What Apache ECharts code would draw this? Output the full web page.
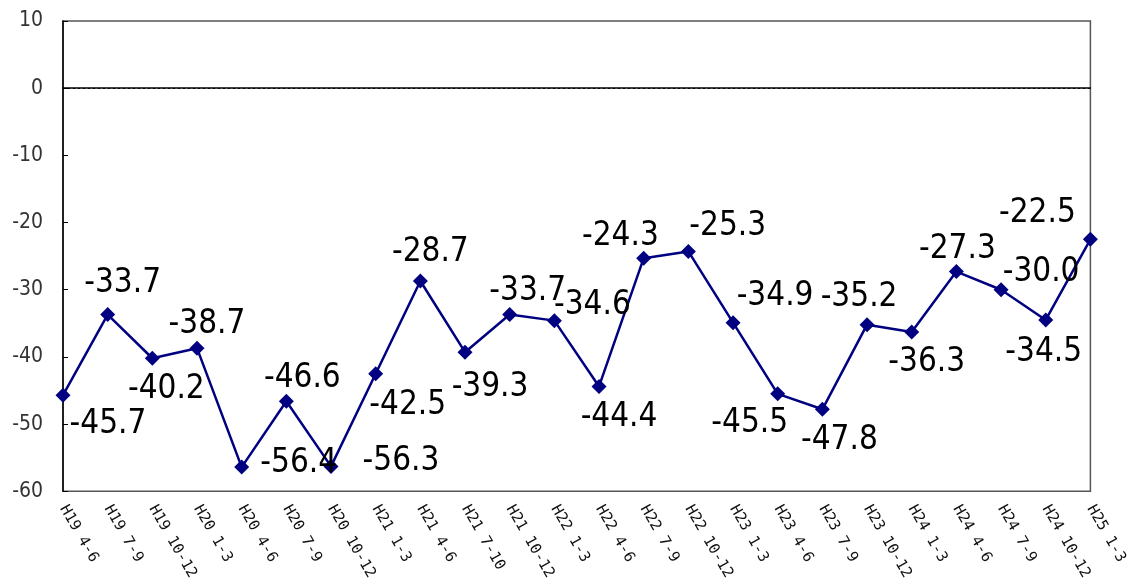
<!DOCTYPE html>
<html>
<head>
<meta charset="utf-8">
<script src="https://cdn.jsdelivr.net/npm/echarts@6/dist/echarts.min.js"></script>
<style>
  html, body { margin: 0; padding: 0; background: #fff; }
  #chart { width: 1130px; height: 583px; }
</style>
</head>
<body>
<div id="chart"></div>
<script>
// Quarter labels (Heisei year + months)
const categories = [
  'H19 4-6', 'H19 7-9', 'H19 10-12', 'H20 1-3', 'H20 4-6', 'H20 7-9',
  'H20 10-12', 'H21 1-3', 'H21 4-6', 'H21 7-10', 'H21 10-12', 'H22 1-3',
  'H22 4-6', 'H22 7-9', 'H22 10-12', 'H23 1-3', 'H23 4-6', 'H23 7-9',
  'H23 10-12', 'H24 1-3', 'H24 4-6', 'H24 7-9', 'H24 10-12', 'H25 1-3'
];

// Index values per quarter
const values = [
  -45.7, -33.7, -40.2, -38.7, -56.4, -46.6,
  -56.3, -42.5, -28.7, -39.3, -33.7, -34.6,
  -44.4, -25.3, -24.3, -34.9, -45.5, -47.8,
  -35.2, -36.3, -27.3, -30.0, -34.5, -22.5
];

// Y axis range and step
const yMin = -60;
const yMax = 10;
const yStep = 10;

// Where each value label sits relative to its marker (px)
const labelOffsets = [
  [45, 29], [15, -31], [14, 31], [10, -24], [57, -4], [16, -23],
  [70, -5], [32, 32], [10, -29], [25, 35], [18, -23], [38, -15],
  [20, 31], [84, -32], [-68, -15], [42, -26], [-28, 30], [17, 31],
  [-8, -27], [15, 30], [1, -22], [40, -17], [-2, 32], [-53, -26]
];

const labelFont = "'DejaVu Sans Condensed', 'Noto Sans CJK JP', sans-serif";
const monoFont = "'DejaVu Sans Mono', 'Liberation Mono', monospace";

const seriesData = values.map((v, i) => ({
  value: v,
  label: { offset: labelOffsets[i] }
}));

const chart = echarts.init(document.getElementById('chart'), null, { renderer: 'canvas' });

chart.setOption({
  animation: false,
  backgroundColor: '#ffffff',
  grid: {
    left: 63, right: 38, top: 21, bottom: 91,
    show: true,
    borderColor: '#555555',
    borderWidth: 1.5,
    backgroundColor: 'transparent'
  },
  xAxis: {
    type: 'category',
    data: categories,
    boundaryGap: false,
    axisLine: { show: true, lineStyle: { color: '#000', width: 1.5 } },
    axisTick: { show: false },
    splitLine: { show: false },
    axisLabel: {
      interval: 0,
      rotate: -60,
      margin: 15,
      color: '#111',
      fontSize: 15,
      fontFamily: monoFont
    }
  },
  yAxis: {
    type: 'value',
    min: yMin,
    max: yMax,
    interval: yStep,
    axisLine: { show: true, lineStyle: { color: '#000', width: 1.5 } },
    axisTick: { show: true, inside: true, length: 5, lineStyle: { color: '#000', width: 1 } },
    splitLine: { show: false },
    axisLabel: {
      margin: 20,
      color: '#333',
      fontSize: 21,
      fontFamily: labelFont
    }
  },
  series: [{
    type: 'line',
    data: seriesData,
    symbol: 'diamond',
    symbolSize: 15,
    itemStyle: { color: '#000080' },
    lineStyle: { color: '#000080', width: 2.5 },
    label: {
      show: true,
      position: 'inside',
      align: 'center',
      verticalAlign: 'middle',
      color: '#000',
      fontSize: 33,
      fontFamily: labelFont,
      formatter: p => p.value.toFixed(1)
    },
    markLine: {
      silent: true,
      symbol: 'none',
      label: { show: false },
      lineStyle: { color: '#000', type: [2, 3], width: 1 },
      data: [{ yAxis: 0 }]
    }
  }]
});
</script>
</body>
</html>
